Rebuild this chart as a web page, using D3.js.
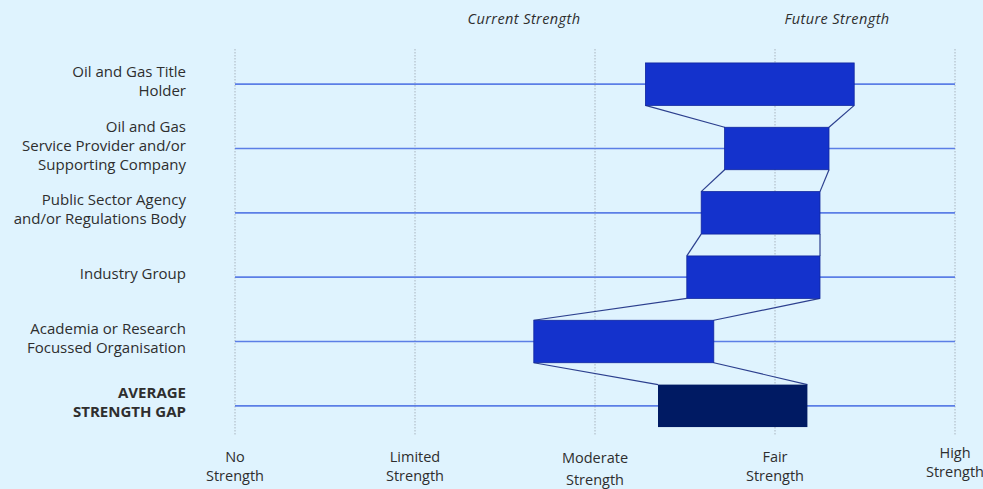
<!DOCTYPE html>
<html>
<head>
<meta charset="utf-8">
<script src="https://cdn.jsdelivr.net/npm/d3@7"></script>
<style>
  html, body { margin: 0; padding: 0; background: #dff3fe; }
  svg { display: block; font-family: "Open Sans", Lato, sans-serif; }
</style>
</head>
<body>
<svg id="chart" width="983" height="489"></svg>
<script>
// Stakeholder groups (label lines) and their current / future strength ratings (0 = No … 4 = High)
const groups = [
  ["Oil and Gas Title", "Holder"],
  ["Oil and Gas", "Service Provider and/or", "Supporting Company"],
  ["Public Sector Agency", "and/or Regulations Body"],
  ["Industry Group"],
  ["Academia or Research", "Focussed Organisation"],
  ["AVERAGE", "STRENGTH GAP"]
];
const currentStrength = [2.28, 2.72, 2.59, 2.51, 1.66, 2.35];
const futureStrength  = [3.44, 3.30, 3.25, 3.25, 2.66, 3.18];
const tickLabels = [["No", "Strength"], ["Limited", "Strength"], ["Moderate", "Strength"], ["Fair", "Strength"], ["High", "Strength"]];
const headers = ["Current Strength", "Future Strength"];

const svg = d3.select("#chart");

const x = d3.scaleLinear().domain([0, 4]).range([235, 955]);
const y = d3.scaleBand().domain(d3.range(groups.length)).range([52, 438]).paddingInner(0.34).paddingOuter(0.17);
const bh = y.bandwidth();
const cy = i => y(i) + bh / 2;

// Vertical dotted reference lines at each rating level
svg.append("g").selectAll("line").data(d3.range(5)).join("line")
  .attr("x1", d => x(d)).attr("x2", d => x(d))
  .attr("y1", 49).attr("y2", 436)
  .attr("stroke", "#a9b4bf").attr("stroke-width", 1)
  .attr("stroke-dasharray", "1.5,1.5");

// Horizontal row guides
svg.append("g").selectAll("line").data(groups).join("line")
  .attr("x1", x(0)).attr("x2", x(4))
  .attr("y1", (d, i) => cy(i)).attr("y2", (d, i) => cy(i))
  .attr("stroke", "#5b7ee6").attr("stroke-width", 1.6);

// Connectors between consecutive bars (left and right edges)
const links = d3.range(groups.length - 1);
const conn = svg.append("g").attr("stroke", "#2c3f8e").attr("stroke-width", 1.2).attr("fill", "none");
conn.selectAll("line.l").data(links).join("line").attr("class", "l")
  .attr("x1", i => x(currentStrength[i])).attr("y1", i => y(i) + bh)
  .attr("x2", i => x(currentStrength[i + 1])).attr("y2", i => y(i + 1));
conn.selectAll("line.r").data(links).join("line").attr("class", "r")
  .attr("x1", i => x(futureStrength[i])).attr("y1", i => y(i) + bh)
  .attr("x2", i => x(futureStrength[i + 1])).attr("y2", i => y(i + 1));

// Strength-gap bars
svg.append("g").selectAll("rect").data(groups).join("rect")
  .attr("x", (d, i) => x(currentStrength[i]))
  .attr("width", (d, i) => x(futureStrength[i]) - x(currentStrength[i]))
  .attr("y", (d, i) => y(i)).attr("height", bh)
  .attr("fill", (d, i) => i === groups.length - 1 ? "#001a63" : "#1432cc")
  .attr("stroke", (d, i) => i === groups.length - 1 ? "none" : "#10269e")
  .attr("stroke-width", 0.8);

// Row labels
const lh = 19;
svg.append("g").selectAll("text").data(groups).join("text")
  .attr("text-anchor", "end")
  .attr("font-size", 15)
  .attr("fill", "#2e2e2e")
  .attr("font-weight", (d, i) => i === groups.length - 1 ? 700 : 400)
  .each(function (lines, i) {
    const t = d3.select(this);
    const y0 = cy(i) - 3 - (lines.length - 1) * lh / 2 + 5;
    lines.forEach((s, k) => t.append("tspan").attr("x", 186).attr("y", y0 + k * lh).text(s));
  });

// Axis tick labels
const tickY1 = [0, 0, 1, 0, -4], tickY2 = [0, 0, 4, 0, -4];
svg.append("g").selectAll("text").data(tickLabels).join("text")
  .attr("text-anchor", "middle").attr("font-size", 14.5).attr("fill", "#2e2e2e")
  .each(function (lines, i) {
    const t = d3.select(this);
    t.append("tspan").attr("x", x(i)).attr("y", 462 + tickY1[i]).text(lines[0]);
    t.append("tspan").attr("x", x(i)).attr("y", 481 + tickY2[i]).text(lines[1]);
  });

// Column headers
svg.append("g").selectAll("text").data(headers).join("text")
  .attr("x", (d, i) => [524, 837][i]).attr("y", 24)
  .attr("text-anchor", "middle").attr("font-size", 14.5).attr("font-style", "italic")
  .attr("letter-spacing", 0.4)
  .attr("fill", "#2e2e2e").text(d => d);
</script>
</body>
</html>
